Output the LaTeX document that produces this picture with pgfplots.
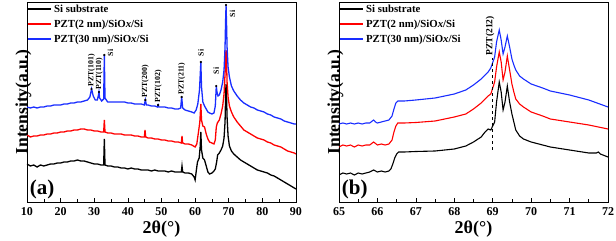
\documentclass[border=0pt]{standalone}
\usepackage{pgfplots}
\pgfplotsset{compat=1.18}
\usepackage{fontspec}
\setmainfont{Liberation Serif}
\definecolor{myred}{RGB}{255,0,0}
\definecolor{myblue}{RGB}{25,45,255}
\pgfplotsset{
  common/.style={
    scale only axis, width=269pt, height=200pt,
    ymin=0, ymax=200, ytick=\empty,
    xtick pos=left, tick align=inside,
    major tick length=4pt, minor tick length=2.5pt,
    minor x tick num=1,
    tick style={black, line width=0.6pt},
    axis line style={line width=0.7pt},
    /pgf/number format/assume math mode=true,
    xticklabel style={font=\bfseries\fontsize{12}{12}\selectfont, yshift=-2pt},
    xlabel={2θ(°)},
    xlabel style={font=\bfseries\fontsize{18}{18}\selectfont, yshift=1.5pt},
    ylabel={Intensity(a.u.)},
    ylabel style={font=\bfseries\fontsize{17.5}{17.5}\selectfont, yshift=-8pt},
    legend style={at={(0.0,1.0)}, anchor=north west, draw=none, fill=none,
      font=\bfseries\fontsize{10.8}{10.8}\selectfont, row sep=2pt, inner sep=0.5pt},
    legend cell align=left,
    legend image code/.code={\draw[#1, line width=1.4pt] (0pt,0pt) -- (23pt,0pt);},
  }
}
\begin{document}
\begin{tikzpicture}[x=1pt,y=1pt]
\useasboundingbox (0,0) rectangle (616,241);
% ---------------- panel (a)
\begin{axis}[common, at={(27pt,39pt)}, anchor=south west,
  xmin=10, xmax=90, xtick={10,20,...,90}]
\addplot[black, line width=1.3pt] coordinates {
(10,38)(11,36)(12,37)(13,35)(14,37)(15,36)(16,37)(17,38)(18,38)(19,39)(20,39)(21,40)(22,40)(23,41)(24,41)(25,42)(26,41)(27,41)(28,40)(29,39)(30,38)(31,38)(32,37)(32.8,37)(33.0,63)(33.2,37)(34,36)(35,36)(36,35)(37,35)(38,34)(39,34)(40,33)(41,34)(42,33)(43,33)(44,32)(45,32)(46,32)(47,31)(48,32)(49,31)(50,31)(51,31)(52,30)(53,31)(54,30)(55,30)(55.9,30)(56.1,36)(56.3,30)(57,29)(58,29)(59,28)(59.7,25)(60.0,22)(60.3,30)(60.7,40)(61.2,44)(61.5,55)(61.7,70)(61.9,52)(62.3,44)(62.8,42)(63.3,36)(63.8,30)(64.3,28)(65,29)(65.6,31)(66.0,33)(66.4,40)(66.7,47)(67.2,49)(67.7,52)(68.2,56)(68.6,64)(68.9,80)(69.1,110)(69.2,118)(69.35,105)(69.5,85)(69.8,66)(70.2,56)(70.8,51)(71.5,48)(72.5,45)(73.5,42)(74.5,40)(75.5,38)(76.5,36)(77.5,34)(78.5,32)(79.5,31)(80.5,30)(81.5,29)(82.5,27)(83.5,26)(84.5,24)(85.5,22)(86.5,20)(87.5,18)(88.5,16)(89.5,14)(90,13)};
\addlegendentry{Si substrate}
\addplot[myred, line width=1.3pt] coordinates {
(10,67)(11,65)(12,66)(13,66)(14,67)(15,67)(16,68)(17,68)(18,69)(19,69)(20,70)(21,70)(22,71)(23,71)(24,72)(25,72)(26,73)(27,73)(28,72)(29,72)(30,71)(31,71)(32,70)(32.8,70)(33.0,82)(33.2,70)(34,69)(35,69)(36,68)(37,68)(38,68)(39,67)(40,67)(41,67)(42,66)(43,66)(44,65)(44.9,65)(45.1,72)(45.3,65)(46,64)(47,64)(48,63)(49,63)(50,62)(51,62)(52,61)(53,61)(54,60)(55,60)(55.9,59)(56.1,66)(56.3,59)(57,58)(58,58)(59,57)(60,55)(60.5,58)(61.0,70)(61.4,80)(61.7,98)(61.9,82)(62.3,76)(62.8,75)(63.3,68)(63.8,63)(64.3,60)(65,59)(65.6,58)(66.0,62)(66.3,75)(66.6,79)(67.2,82)(67.7,88)(68.2,96)(68.6,108)(68.9,128)(69.1,148)(69.2,152)(69.35,140)(69.5,120)(69.8,105)(70.2,96)(70.8,90)(71.5,85)(72.5,80)(73.5,76)(74.5,72)(75.5,70)(76.5,68)(77.5,66)(78.5,64)(79.5,63)(80.5,62)(81.5,60)(82.5,59)(83.5,57)(84.5,56)(85.5,55)(86.5,53)(87.5,51)(88.5,50)(89.5,49)(90,48)};
\addlegendentry{PZT(2 nm)/SiO\textit{x}/Si}
\addplot[myblue, line width=1.3pt] coordinates {
(10,95)(11,94)(12,95)(13,94)(14,95)(15,95)(16,96)(17,96)(18,97)(19,97)(20,97)(21,98)(22,98)(23,99)(24,99)(25,100)(26,100)(27,101)(28,102)(28.7,105)(29.2,113)(29.7,106)(30.3,102)(30.9,102)(31.2,106)(31.4,110)(31.6,104)(32.2,101)(32.8,103)(33.0,147)(33.2,104)(34,100)(35,100)(36,100)(37,100)(38,100)(39,100)(40,99)(41,99)(42,98)(43,98)(44,98)(44.9,97)(45.2,102)(45.5,97)(46,97)(47,96)(48,96)(48.8,95)(49.0,97)(49.2,95)(50,95)(51,95)(52,94)(53,94)(54,93)(55,93)(55.7,94)(56.0,105)(56.3,94)(57,92)(58,91)(59,90)(59.7,89)(60.3,92)(60.8,98)(61.3,112)(61.7,140)(61.9,115)(62.3,100)(62.8,96)(63.3,93)(63.8,90)(64.3,89)(65,88)(65.6,89)(66.0,96)(66.3,116)(66.5,110)(66.8,106)(67.2,107)(67.7,112)(68.2,120)(68.6,132)(68.9,155)(69.05,180)(69.2,197)(69.35,178)(69.5,155)(69.8,135)(70.2,125)(70.8,116)(71.5,111)(72.5,106)(73.5,102)(74.5,99)(75.5,97)(76.5,95)(77.5,94)(78.5,92)(79.5,91)(80.5,90)(81.5,88)(82.5,87)(83.5,85)(84.5,84)(85.5,83)(86.5,81)(87.5,80)(88.5,79)(89.5,78)(90,78)};
\addlegendentry{PZT(30 nm)/SiO\textit{x}/Si}
\addplot[only marks, black, mark=*, mark size=0.9pt, forget plot] coordinates {
(29.2,113)(31.4,110)(33.0,147)(45.2,102)(49.0,97)(56.0,105)(61.7,140)(66.3,116)(69.2,197)};
\begin{scope}[every node/.style={rotate=90, anchor=west, inner sep=0.5pt, font=\bfseries\fontsize{7.8}{7.8}\selectfont}]
\node at (axis cs:29.2,115) {PZT(101)};
\node at (axis cs:31.5,112) {PZT(110)};
\node at (axis cs:34.8,145) {Si};
\node at (axis cs:45.2,104) {PZT(200)};
\node at (axis cs:49.0,99) {PZT(102)};
\node at (axis cs:56.0,107) {PZT(211)};
\node at (axis cs:61.7,145) {Si};
\node at (axis cs:66.3,127) {Si};
\node at (axis cs:71.1,184) {Si};
\end{scope}
\node[anchor=west, font=\bfseries\fontsize{21}{21}\selectfont, inner sep=0pt] at (rel axis cs:0.01,0.065) {(a)};
\end{axis}
% ---------------- panel (b)
\begin{axis}[common, at={(339pt,39pt)}, anchor=south west,
  xmin=65, xmax=72, xtick={65,66,...,72}]
\addplot[black, line width=1.1pt] coordinates {
(65,27)(65.1,29)(65.2,28)(65.3,29)(65.4,27)(65.5,29)(65.6,28)(65.7,29)(65.8,30)(65.9,32)(66.0,30)(66.1,31)(66.2,30)(66.3,31)(66.35,33)(66.4,38)(66.45,44)(66.5,48)(66.55,50)(66.7,50)(67,50.5)(67.5,51)(68,53)(68.3,56)(68.5,60)(68.7,65)(68.8,70)(68.88,73)(68.95,72)(69.05,80)(69.1,100)(69.17,120)(69.22,110)(69.27,92)(69.32,100)(69.38,116)(69.44,100)(69.5,88)(69.55,80)(69.6,72)(69.7,66)(69.8,63)(70,60)(70.3,57)(70.5,55)(71,52)(71.5,49)(71.7,49)(71.75,50)(71.8,48)(72,45)};
\addlegendentry{Si substrate}
\addplot[myred, line width=1.1pt] coordinates {
(65,55)(65.1,57)(65.2,56)(65.3,57)(65.4,55)(65.5,57)(65.6,56)(65.7,57)(65.8,57)(65.9,60)(66.0,57)(66.1,58)(66.2,57)(66.3,58)(66.38,62)(66.43,70)(66.48,76)(66.53,79)(66.7,79)(67,79.5)(67.5,81)(68,85)(68.3,88)(68.5,93)(68.7,99)(68.8,103)(68.88,106)(68.95,108)(69.05,120)(69.1,135)(69.17,150)(69.22,140)(69.27,122)(69.32,130)(69.38,146)(69.44,132)(69.5,118)(69.55,110)(69.6,103)(69.7,98)(69.8,95)(70,90)(70.3,86)(70.5,83)(71,80)(71.5,77)(72,73)};
\addlegendentry{PZT(2 nm)/SiO\textit{x}/Si}
\addplot[myblue, line width=1.1pt] coordinates {
(65,78)(65.1,79)(65.2,78)(65.3,79)(65.4,78)(65.5,79)(65.6,78)(65.7,79)(65.8,79)(65.9,82)(65.95,80)(66.0,79)(66.1,80)(66.2,81)(66.3,82)(66.38,86)(66.43,93)(66.48,99)(66.53,101)(66.7,101)(67,102)(67.5,104)(68,108)(68.3,112)(68.5,117)(68.7,123)(68.8,127)(68.88,130)(68.95,134)(69.05,145)(69.1,160)(69.17,172)(69.22,162)(69.27,148)(69.32,155)(69.38,166)(69.44,155)(69.5,143)(69.55,137)(69.6,132)(69.7,126)(69.8,123)(70,118)(70.3,114)(70.5,111)(71,107)(71.5,102)(72,95)};
\addlegendentry{PZT(30 nm)/SiO\textit{x}/Si}
\addplot[black, dashed, line width=0.7pt, forget plot] coordinates {(69.0,52)(69.0,144)};
\node[rotate=90, anchor=west, inner sep=0.5pt, font=\bfseries\fontsize{9.5}{9.5}\selectfont] at (axis cs:68.93,146) {PZT(212)};
\node[anchor=west, font=\bfseries\fontsize{21}{21}\selectfont, inner sep=0pt] at (rel axis cs:0.01,0.065) {(b)};
\end{axis}
\end{tikzpicture}
\end{document}
